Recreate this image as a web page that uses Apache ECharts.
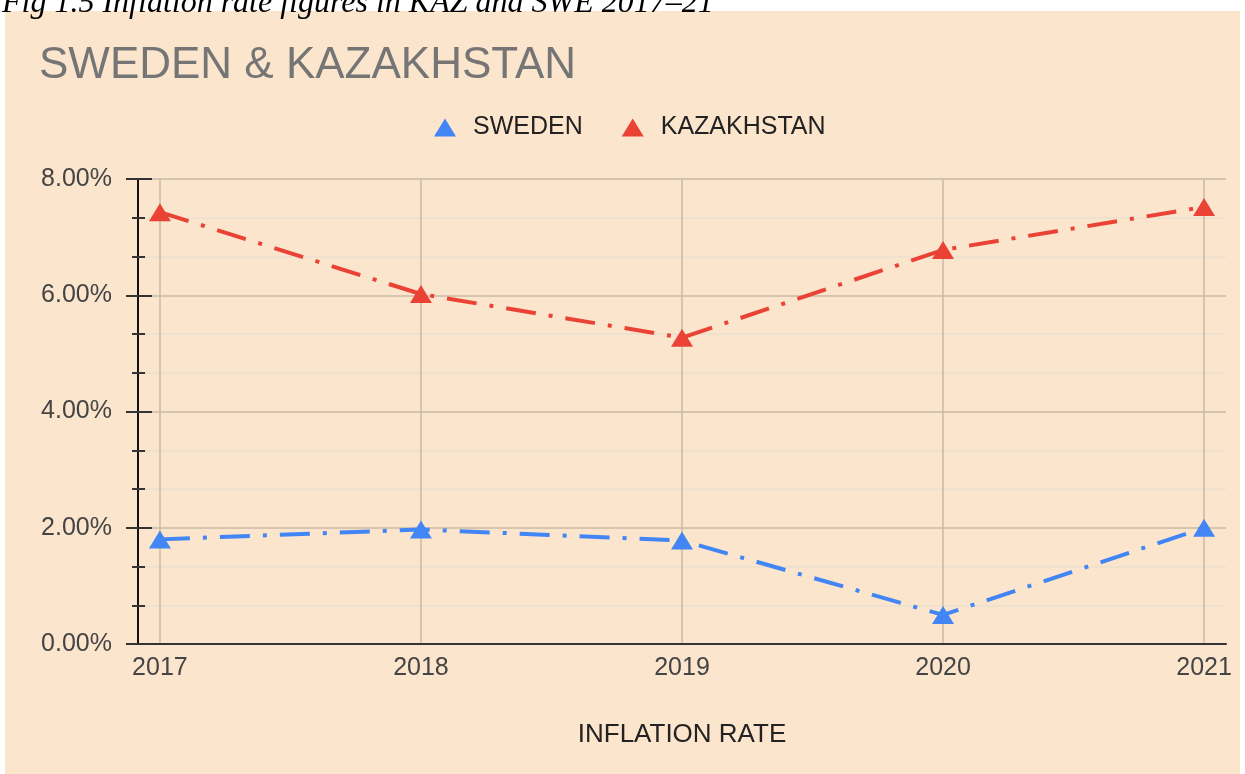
<!DOCTYPE html>
<html>
<head>
<meta charset="utf-8">
<script src="https://cdn.jsdelivr.net/npm/echarts@6/dist/echarts.min.js"></script>
<style>
  html, body { margin: 0; padding: 0; background: #fff; }
  #myChart { width: 1245px; height: 774px; }
</style>
</head>
<body>
<div id="myChart"></div>
<script>
  // data
  const years = [2017, 2018, 2019, 2020, 2021]
  const sweden = [1.8, 1.97, 1.78, 0.5, 2.0]
  const kazakhstan = [7.43, 6.02, 5.27, 6.78, 7.52]
  const yTicks = [0, 2, 4, 6, 8]

  const font = 'Liberation Sans'
  const pairs = vals => years.map((y, i) => [y, vals[i]])

  const chart = echarts.init(document.getElementById('myChart'))

  const lineSeries = (name, color, vals) => ({
    name: name,
    type: 'line',
    data: pairs(vals),
    symbol: 'triangle',
    symbolSize: [22, 18],
    itemStyle: { color: color },
    lineStyle: { color: color, width: 4, type: [30, 13, 4, 13], cap: 'butt' },
    z: 5
  })

  chart.setOption({
    backgroundColor: '#fff',
    animation: false,
    graphic: [
      { type: 'rect', shape: { x: 5, y: 11, width: 1235, height: 763 }, style: { fill: '#fce5cd' }, z: -10 },
      { type: 'text', x: 2, y: 20, z: 10,
        style: { text: 'Fig 1.5 Inflation rate figures in KAZ and SWE 2017–21', font: 'italic 32px "Liberation Serif"', fill: '#000', verticalAlign: 'bottom' } }
    ],
    title: {
      text: 'SWEDEN & KAZAKHSTAN',
      left: 34, top: 39,
      textStyle: { fontFamily: font, fontSize: 44, fontWeight: 'normal', color: '#757575' }
    },
    legend: {
      left: 429, top: 110,
      icon: 'triangle',
      itemWidth: 22, itemHeight: 18, itemGap: 39,
      textStyle: { fontFamily: font, fontSize: 25, color: '#222', padding: [0, 0, 0, 12] },
      data: ['SWEDEN', 'KAZAKHSTAN']
    },
    grid: { left: 138, right: 19, top: 179, bottom: 130 },
    xAxis: {
      type: 'value',
      min: years[0] - 0.084, max: years[years.length - 1] + 0.084,
      name: 'INFLATION RATE', nameLocation: 'middle', nameGap: 78,
      nameTextStyle: { fontFamily: font, fontSize: 26, color: '#222' },
      axisLine: { show: true, onZero: false, lineStyle: { color: '#333', width: 2 } },
      axisTick: { show: false },
      axisLabel: {
        showMinLabel: false, showMaxLabel: false, margin: 12,
        fontFamily: font, fontSize: 25, color: '#444',
        formatter: v => (Number.isInteger(v) && years.includes(v)) ? String(v) : ''
      },
      splitLine: { show: true, showMinLine: false, showMaxLine: false, lineStyle: { color: '#c9b9a3', width: 1.5 } }
    },
    yAxis: [
      {
        type: 'value', min: yTicks[0], max: yTicks[yTicks.length - 1], interval: 2,
        axisLine: { show: true, lineStyle: { color: '#111', width: 2 } },
        axisTick: { show: true, length: 12, lineStyle: { color: '#333', width: 2 } },
        minorTick: { show: true, splitNumber: 3, length: 6, lineStyle: { color: '#333', width: 2 } },
        axisLabel: { fontFamily: font, fontSize: 25, color: '#444', margin: 26, formatter: v => v.toFixed(2) + '%' },
        splitLine: { show: true, lineStyle: { color: '#c9b9a3', width: 1.5 } },
        minorSplitLine: { show: true, lineStyle: { color: '#ecdfcf', width: 1.5 } }
      },
      {
        // inside ticks so the marks cross the axis line
        type: 'value', min: yTicks[0], max: yTicks[yTicks.length - 1], interval: 2, position: 'left',
        axisLine: { show: false },
        axisTick: { show: true, inside: true, length: 14, lineStyle: { color: '#333', width: 2 } },
        minorTick: { show: true, splitNumber: 3, length: 7, lineStyle: { color: '#333', width: 2 } },
        axisLabel: { show: false },
        splitLine: { show: false }
      }
    ],
    series: [
      lineSeries('SWEDEN', '#4285f4', sweden),
      lineSeries('KAZAKHSTAN', '#ea4335', kazakhstan)
    ]
  })
</script>
</body>
</html>
